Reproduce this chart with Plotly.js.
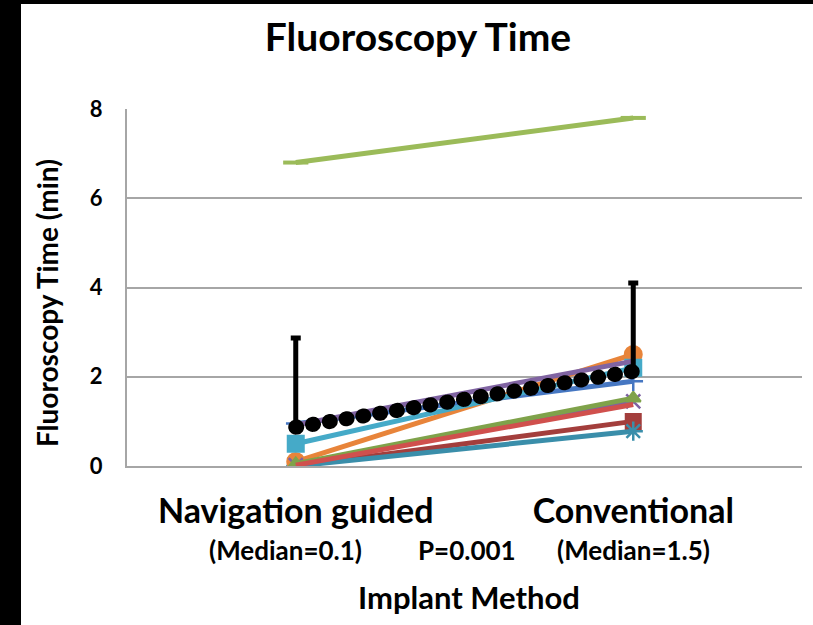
<!DOCTYPE html>
<html>
<head>
<meta charset="utf-8">
<script src="https://cdn.plot.ly/plotly-3.0.1.min.js"></script>
<style>
  html, body { margin: 0; padding: 0; background: #ffffff; }
  #wrap { position: relative; width: 813px; height: 625px; overflow: hidden; background: #fff; }
  #chart { position: absolute; left: 0; top: 0; width: 813px; height: 625px; }
  #bl { position: absolute; left: 0; top: 0; width: 21px; height: 625px; background: #000; z-index: 5; }
  #bt { position: absolute; left: 0; top: 0; width: 813px; height: 4px; background: #000; z-index: 5; }
  .roundcap .js-line { stroke-linecap: round; }
</style>
</head>
<body>
<div id="wrap">
  <div id="chart"></div>
  <div id="bl"></div>
  <div id="bt"></div>
</div>
<script>
// Categories (x axis)
var categories = ["Navigation guided", "Conventional"];
var xPos = [0, 1];

// Individual patient series: [Navigation guided, Conventional] fluoroscopy time (min)
var seriesHigh      = [6.8, 7.8];
var seriesDarkRed   = [0.0, 1.0];
var seriesTeal      = [0.0, 0.78];
var seriesOrange    = [0.1, 2.5];
var seriesPurpleX   = [0.02, 1.45];
var seriesGreenTri  = [0.05, 1.52];
var seriesRed       = [0.02, 1.38];
var seriesBluePlus  = [0.95, 1.9];
var seriesAqua      = [0.5, 2.2];
var seriesPurple    = [0.92, 2.35];
// Mean series with positive error bars
var seriesMean      = [0.87, 2.12];
var meanErrPlus     = [2.0, 1.98];

// Text labels
var titleText = "Fluoroscopy Time";
var yTitleText = "Fluoroscopy Time (min)";
var xTitleText = "Implant Method";
var medianNav = "(Median=0.1)";
var medianConv = "(Median=1.5)";
var pValueText = "P=0.001";

var FONT = "Lato, 'Open Sans', sans-serif";
var LW = 5;

function line(y, color, symbol, msize, extra) {
  var t = {
    x: xPos, y: y, type: "scatter", mode: symbol ? "lines+markers" : "lines",
    line: { color: color, width: LW },
    hoverinfo: "skip", showlegend: false
  };
  if (symbol) {
    t.marker = Object.assign({ symbol: symbol, size: msize, color: color,
      line: { color: color, width: 2 } }, extra || {});
  }
  return t;
}

var traces = [
  line(seriesHigh, "#9BBB59", "line-ew", 18, { line: { color: "#9BBB59", width: 4 } }),
  line(seriesDarkRed, "#A33E3C", "square", 15),
  line(seriesTeal, "#3A8EAA", "asterisk-open", 16, { line: { color: "#3A8EAA", width: 2.5 } }),
  line(seriesOrange, "#E8843A", "circle", 17),
  line(seriesPurpleX, "#7E62A3", "x-thin-open", 14, { line: { color: "#7E62A3", width: 2.5 } }),
  line(seriesGreenTri, "#7FA24A", "triangle-up", 13),
  line(seriesRed, "#D0504D", null),
  line(seriesBluePlus, "#4677C2", "cross-thin-open", 14, { line: { color: "#4677C2", width: 2.5 } }),
  line(seriesAqua, "#45AAC8", "square", 16),
  line(seriesPurple, "#8064A2", null),
  {
    x: xPos, y: seriesMean, type: "scatter", mode: "lines",
    line: { color: "#000000", width: 15, dash: "1px,16px" },
    error_y: { type: "data", symmetric: false, array: meanErrPlus, arrayminus: [0, 0],
               color: "#000000", thickness: 5, width: 5 },
    hoverinfo: "skip", showlegend: false
  }
];

var plotW = 675;
function px(xPix) { return (xPix - 127) / plotW; }
function py(yPix) { return (466 - yPix) / 357; }

var layout = {
  width: 813, height: 625,
  margin: { l: 127, r: 11, t: 109, b: 159 },
  paper_bgcolor: "rgba(0,0,0,0)",
  plot_bgcolor: "#ffffff",
  font: { family: FONT, color: "#000000" },
  title: { text: "<b>" + titleText + "</b>", font: { size: 39, family: FONT, color: "#000" },
           x: 418 / 813, xanchor: "center", y: 1 - 37 / 625, yanchor: "middle" },
  xaxis: {
    range: [-0.5, 1.5], tickmode: "array", tickvals: xPos,
    ticktext: categories.map(function (c) { return "<b>" + c + "</b>"; }),
    tickfont: { size: 34, family: FONT, color: "#000" },
    showgrid: false, zeroline: false, showline: true, linecolor: "#A6A6A6", linewidth: 2,
    ticks: "", ticklabelstandoff: 14, fixedrange: true
  },
  yaxis: {
    range: [0, 8], dtick: 2, tick0: 0,
    tickfont: { size: 22, family: FONT, color: "#000" },
    tickprefix: "<b>", ticksuffix: "</b>",
    showgrid: true, gridcolor: "#A6A6A6", gridwidth: 2,
    zeroline: false, showline: true, linecolor: "#A6A6A6", linewidth: 2,
    ticks: "", ticklabelstandoff: 18, fixedrange: true
  },
  annotations: [
    { text: "<b>" + yTitleText + "</b>", xref: "paper", yref: "paper", x: px(47), y: py(303),
      textangle: -90, showarrow: false, font: { size: 28, family: FONT, color: "#000" },
      xanchor: "center", yanchor: "middle" },
    { text: "<b>" + xTitleText + "</b>", xref: "paper", yref: "paper", x: px(469), y: py(597),
      showarrow: false, font: { size: 31, family: FONT, color: "#000" },
      xanchor: "center", yanchor: "middle" },
    { text: "<b>" + medianNav + "</b>", xref: "paper", yref: "paper", x: px(285), y: py(550),
      showarrow: false, font: { size: 26, family: FONT, color: "#000" },
      xanchor: "center", yanchor: "middle" },
    { text: "<b>" + pValueText + "</b>", xref: "paper", yref: "paper", x: px(467), y: py(550),
      showarrow: false, font: { size: 26, family: FONT, color: "#000" },
      xanchor: "center", yanchor: "middle" },
    { text: "<b>" + medianConv + "</b>", xref: "paper", yref: "paper", x: px(633), y: py(550),
      showarrow: false, font: { size: 26, family: FONT, color: "#000" },
      xanchor: "center", yanchor: "middle" }
  ]
};

Plotly.newPlot("chart", traces, layout, { displayModeBar: false, staticPlot: true }).then(function () {
  var tr = document.querySelectorAll("#chart .scatterlayer .trace");
  if (tr.length) { tr[tr.length - 1].classList.add("roundcap"); }
});
</script>
</body>
</html>
